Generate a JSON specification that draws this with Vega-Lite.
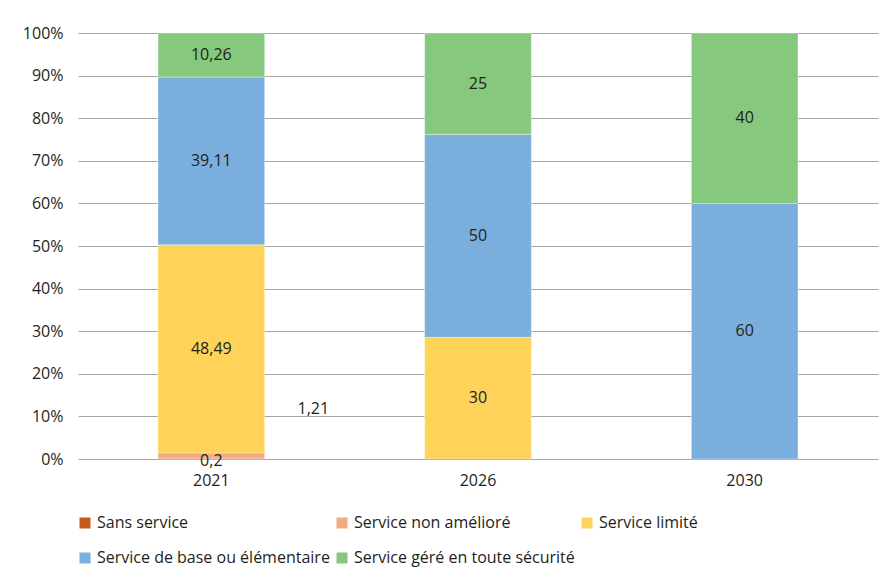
{
  "$schema": "https://vega.github.io/schema/vega-lite/v6.json",
  "width": 800,
  "height": 426,
  "autosize": {"type": "none"},
  "padding": {"left": 78, "top": 33, "right": 9, "bottom": 117},
  "background": "white",
  "config": {
    "font": "Open Sans",
    "view": {"stroke": null},
    "axis": {"labelColor": "#231F20", "labelFontSize": 16, "titleColor": "#231F20"},
    "legend": {"labelColor": "#231F20", "labelFontSize": 16, "labelLimit": 400}
  },
  "data": {
    "values": [
      {"year": "2021", "cat": "Sans service", "value": 0.2, "order": 1},
      {"year": "2021", "cat": "Service non amélioré", "value": 1.21, "order": 2},
      {"year": "2021", "cat": "Service limité", "value": 48.49, "order": 3},
      {"year": "2021", "cat": "Service de base ou élémentaire", "value": 39.11, "order": 4},
      {"year": "2021", "cat": "Service géré en toute sécurité", "value": 10.26, "order": 5},
      {"year": "2026", "cat": "Service limité", "value": 30, "order": 3},
      {"year": "2026", "cat": "Service de base ou élémentaire", "value": 50, "order": 4},
      {"year": "2026", "cat": "Service géré en toute sécurité", "value": 25, "order": 5},
      {"year": "2030", "cat": "Service de base ou élémentaire", "value": 60, "order": 4},
      {"year": "2030", "cat": "Service géré en toute sécurité", "value": 40, "order": 5}
    ]
  },
  "transform": [
    {"stack": "value", "groupby": ["year"], "sort": [{"field": "order"}], "offset": "normalize", "as": ["v0", "v1"]},
    {"calculate": "(datum.v0 + datum.v1) / 2", "as": "mid"},
    {"calculate": "replace(toString(datum.value), '.', ',')", "as": "lab"}
  ],
  "encoding": {
    "x": {
      "field": "year", "type": "ordinal", "title": null,
      "scale": {"paddingInner": 0.6, "paddingOuter": 0.3},
      "axis": {"labelAngle": 0, "ticks": false, "domain": false, "labelPadding": 13, "grid": false}
    }
  },
  "layer": [
    {
      "mark": {"type": "bar", "stroke": "#ffffff", "strokeWidth": 0.6, "strokeOpacity": 0.6},
      "encoding": {
        "y": {
          "field": "v0", "type": "quantitative", "title": null,
          "scale": {"domain": [0, 1], "nice": false},
          "axis": {"format": ".0%", "values": [0, 0.1, 0.2, 0.3, 0.4, 0.5, 0.6, 0.7, 0.8, 0.9, 1], "ticks": false, "domain": false, "gridColor": "#A6A6A6", "gridWidth": 1.2, "gridOpacity": 1, "labelPadding": 15}
        },
        "y2": {"field": "v1"},
        "color": {
          "field": "cat", "type": "nominal",
          "scale": {
            "domain": ["Sans service", "Service non amélioré", "Service limité", "Service de base ou élémentaire", "Service géré en toute sécurité"],
            "range": ["#C55A1E", "#F4A97F", "#FFD25A", "#7AAEDC", "#86C87D"]
          },
          "legend": {
            "title": null, "orient": "none", "legendX": -1, "legendY": 482,
            "direction": "horizontal", "columns": 3, "symbolType": "square", "symbolSize": 121,
            "symbolStrokeWidth": 0, "labelOffset": 4, "rowPadding": 19, "columnPadding": 4
          }
        }
      }
    },
    {
      "transform": [{"filter": "datum.value > 5"}],
      "mark": {"type": "text", "fontSize": 16, "color": "#231F20"},
      "encoding": {
        "y": {"field": "mid", "type": "quantitative"},
        "text": {"field": "lab"}
      }
    },
    {
      "transform": [{"filter": "datum.cat == 'Sans service'"}],
      "mark": {"type": "text", "fontSize": 16, "color": "#231F20", "dy": 2},
      "encoding": {
        "y": {"field": "mid", "type": "quantitative"},
        "text": {"field": "lab"}
      }
    },
    {
      "transform": [{"filter": "datum.cat == 'Service non amélioré'"}],
      "mark": {"type": "text", "fontSize": 16, "color": "#231F20", "dx": 102, "dy": -47},
      "encoding": {
        "y": {"field": "mid", "type": "quantitative"},
        "text": {"field": "lab"}
      }
    }
  ]
}
